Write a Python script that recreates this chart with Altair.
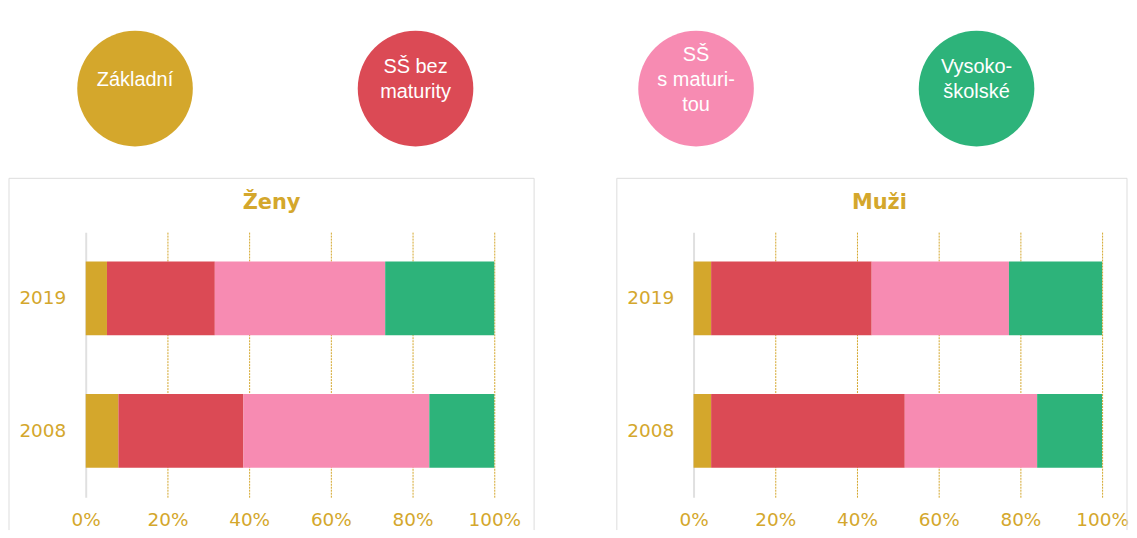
import altair as alt
import pandas as pd

categories = ["Základní", "SŠ bez maturity", "SŠ s maturitou", "Vysokoškolské"]
circle_labels = ["Základní", "SŠ bez\nmaturity", "SŠ\ns maturi-\ntou", "Vysoko-\nškolské"]
colors = ["#D4A72C", "#DB4A55", "#F78BB2", "#2DB37A"]
years = ["2019", "2008"]
panels = ["Ženy", "Muži"]
zeny_2019 = [5.2, 26.4, 41.7, 26.7]
zeny_2008 = [8.0, 30.6, 45.5, 15.9]
muzi_2019 = [4.3, 39.3, 33.6, 22.8]
muzi_2008 = [4.3, 47.4, 32.4, 15.9]
x_ticks = [0, 0.2, 0.4, 0.6, 0.8, 1.0]

GOLD = "#D4A72C"
FRAME = "#dddddd"
color_scale = alt.Scale(domain=categories, range=colors)
AXFONT = "DejaVu Sans"


def panel(name, v2019, v2008, right_edge):
    rows = []
    for yr, vals in zip(years, [v2019, v2008]):
        for i, (c, v) in enumerate(zip(categories, vals)):
            rows.append({"year": yr, "category": c, "value": v, "order": i})
    df = pd.DataFrame(rows)
    bars = alt.Chart(df).mark_bar().encode(
        x=alt.X(
            "value:Q",
            stack="normalize",
            scale=alt.Scale(domain=[0, 1], nice=False),
            axis=alt.Axis(
                values=x_ticks,
                format=".0%",
                title=None,
                domain=False,
                ticks=False,
                labelFlush=False,
                labelColor=GOLD,
                labelFont=AXFONT,
                labelFontSize=18.5,
                labelPadding=13,
                gridColor={"condition": {"test": "datum.value === 0", "value": "#e0e0e0"}, "value": GOLD},
                gridDash={"condition": {"test": "datum.value === 0", "value": []}, "value": [2, 1]},
                gridWidth={"condition": {"test": "datum.value === 0", "value": 2}, "value": 1},
            ),
        ),
        y=alt.Y(
            "year:N",
            sort=years,
            scale=alt.Scale(paddingInner=0.444, paddingOuter=0.222),
            axis=alt.Axis(
                title=None,
                ticks=False,
                domain=False,
                grid=False,
                labelColor=GOLD,
                labelFont=AXFONT,
                labelFontSize=18.5,
                labelPadding=20,
            ),
        ),
        color=alt.Color("category:N", scale=color_scale, legend=None),
        order=alt.Order("order:Q"),
    )
    pdf = pd.DataFrame({"panel": [name]})
    layers = []
    rule = alt.Chart(pdf).mark_rule(color=FRAME, strokeWidth=1)
    layers.append(rule.encode(x=alt.value(-77), y=alt.value(-54), y2=alt.value(299)))
    layers.append(rule.encode(x=alt.value(-77), x2=alt.value(right_edge), y=alt.value(-54)))
    if right_edge <= 450:
        layers.append(rule.encode(x=alt.value(right_edge), y=alt.value(-54), y2=alt.value(299)))
    title = alt.Chart(pdf).mark_text(
        font=AXFONT, fontSize=21, fontWeight="bold", color=GOLD, align="center", baseline="alphabetic"
    ).encode(text="panel:N", x=alt.value(186.5), y=alt.value(-23))
    return alt.layer(*layers, bars, title).properties(width=410, height=266)


cdf = pd.DataFrame({"category": categories, "label": circle_labels})
xc = alt.X("category:N", sort=categories, scale=alt.Scale(type="point", padding=0.1758), axis=None)
circles = alt.Chart(cdf).mark_circle(size=13456, opacity=1).encode(
    x=xc, y=alt.value(80), color=alt.Color("category:N", scale=color_scale, legend=None)
)
texts = (
    alt.Chart(cdf)
    .transform_calculate(nlines="length(split(datum.label, '\\n'))")
    .mark_text(
        font="Liberation Sans", fontSize=20, color="white", lineBreak="\n", lineHeight=25, baseline="middle"
    )
    .encode(
        x=xc,
        y=alt.Y("nlines:Q", scale=alt.Scale(domain=[1, 3], range=[71, 46]), axis=None),
        text="label:N",
    )
)
top = alt.layer(circles, texts).properties(width=943.5, height=160)

bottom = alt.hconcat(
    panel(panels[0], zeny_2019, zeny_2008, 450),
    panel(panels[1], muzi_2019, muzi_2008, 435),
    spacing=81,
)

chart = (
    alt.vconcat(top, bottom, spacing=9)
    .properties(padding=0, background="white")
    .configure_view(stroke=None)
)
chart.save("out.html", embed_options={"renderer": "svg", "actions": False})
